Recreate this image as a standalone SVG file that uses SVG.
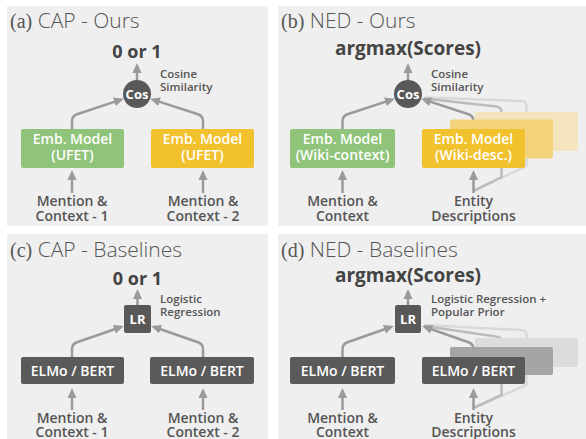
<svg xmlns="http://www.w3.org/2000/svg" width="586" height="439" viewBox="0 0 586 439">
<defs>
<style>
.panel{fill:#efefef}
.ttl{font-family:"Open Sans","Liberation Sans",sans-serif;font-weight:300;font-size:21px;fill:#555}
.ttl .lt{font-family:"Liberation Serif",serif;font-weight:400;font-size:20px}
.out{font-family:"Open Sans","Liberation Sans",sans-serif;font-weight:700;fill:#444;text-anchor:middle}
.note{font-family:"Open Sans","Liberation Sans",sans-serif;font-weight:600;font-size:11.5px;fill:#555}
.inp{font-family:"Open Sans","Liberation Sans",sans-serif;font-weight:600;font-size:14px;fill:#555;text-anchor:middle}
.bt{font-family:"Open Sans","Liberation Sans",sans-serif;font-weight:600;font-size:14px;fill:#fff;text-anchor:middle}
.op{font-family:"Open Sans","Liberation Sans",sans-serif;font-weight:700;font-size:13px;fill:#fff;text-anchor:middle}
.ar{fill:none;stroke:#9a9a9a;stroke-width:2.5;marker-end:url(#ah)}
.l2{fill:none;stroke:#bcbcbc;stroke-width:2.5}
.l3{fill:none;stroke:#d9d9d9;stroke-width:2.5}
.green{fill:#8fc47a}
.yel{fill:#f2c12e}
.yel2{fill:#f2d37c}
.yel3{fill:#f4e5bf}
.dk{fill:#5a5a5a}
.gr2{fill:#a5a5a5}
.gr3{fill:#dcdcdc}
</style>
<marker id="ah" viewBox="0 0 10 10" refX="7" refY="5" markerWidth="10" markerHeight="10" markerUnits="userSpaceOnUse" orient="auto">
<path d="M0,0.5 L10,5 L0,9.5 z" fill="#9a9a9a"/>
</marker>
</defs>

<rect class="panel" x="7" y="6" width="261" height="220"/>
<rect class="panel" x="278" y="6" width="308" height="220"/>
<rect class="panel" x="7" y="234" width="261" height="205"/>
<rect class="panel" x="278" y="234" width="308" height="205"/>

<g id="titles">
<text class="ttl" x="10" y="28"><tspan class="lt">(a)</tspan> CAP - Ours</text>
<text class="ttl" x="281" y="28"><tspan class="lt">(b)</tspan> NED - Ours</text>
<text class="ttl" x="10" y="257"><tspan class="lt">(c)</tspan> CAP - Baselines</text>
<text class="ttl" x="281" y="257"><tspan class="lt">(d)</tspan> NED - Baselines</text>
</g>

<g id="connectors">
<!-- a -->
<path class="ar" d="M137,80 V66"/>
<path class="ar" d="M72,129 V121 Q72,116 77,114.2 L121,99.6"/>
<path class="ar" d="M203,129 V121 Q203,116 198,114.2 L153,99.6"/>
<path class="ar" d="M72,193 V173"/>
<path class="ar" d="M203,193 V173"/>
<!-- b -->
<path class="ar" d="M408,80 V66"/>
<path class="l3" d="M526.5,112 V106 Q526.5,101 521,101 L424,97.5"/>
<path class="l2" d="M501.5,119 V112 Q501.5,107 496,106.5 L424,98.5"/>
<path class="l3" d="M473.5,191 L526.5,166 V151"/>
<path class="l2" d="M473.5,191 L501.5,177 V159"/>
<path class="ar" d="M342.5,129 V121 Q342.5,116 347.5,114.2 L392,99.6"/>
<path class="ar" d="M473.5,129 V121 Q473.5,116 468.5,114.2 L424,99.6"/>
<path class="ar" d="M342.5,193 V173"/>
<path class="ar" d="M473.5,193 V173"/>
<!-- c -->
<path class="ar" d="M137.5,305 V292"/>
<path class="ar" d="M72,357 V349 Q72,344 77,342.2 L121,327"/>
<path class="ar" d="M203,357 V349 Q203,344 198,342.2 L154,327"/>
<path class="ar" d="M72,410 V391"/>
<path class="ar" d="M203,410 V391"/>
<!-- d -->
<path class="ar" d="M408,305 V292"/>
<path class="l3" d="M526.5,338 V335 Q526.5,330 521,330 L424,325"/>
<path class="l2" d="M501.5,347 V342 Q501.5,337 496,336.5 L424,326"/>
<path class="l3" d="M473.5,408 L526.5,385 V367"/>
<path class="l2" d="M473.5,408 L501.5,395 V375"/>
<path class="ar" d="M342.5,357 V349 Q342.5,344 347.5,342.2 L391,327"/>
<path class="ar" d="M473.5,357 V349 Q473.5,344 468.5,342.2 L425,327"/>
<path class="ar" d="M342.5,410 V391"/>
<path class="ar" d="M473.5,410 V391"/>
</g>

<!-- panel a nodes -->
<g id="a-out"><text class="out" x="137" y="58" font-size="18">0 or 1</text></g>
<g id="a-cos">
<circle cx="137" cy="94" r="14" fill="#595959"/>
<text class="op" x="137" y="98.5">Cos</text>
<text class="note" x="160" y="78">Cosine</text>
<text class="note" x="160" y="91">Similarity</text>
</g>
<g id="a-emb1">
<rect class="green" x="21" y="129" width="103" height="39" rx="2"/>
<text class="bt" x="72.5" y="144">Emb. Model</text>
<text class="bt" x="72.5" y="160">(UFET)</text>
</g>
<g id="a-emb2">
<rect class="yel" x="151" y="129" width="103" height="39" rx="2"/>
<text class="bt" x="202.5" y="144">Emb. Model</text>
<text class="bt" x="202.5" y="160">(UFET)</text>
</g>
<g id="a-in1"><text class="inp" x="72" y="206">Mention &amp;</text><text class="inp" x="72" y="221">Context - 1</text></g>
<g id="a-in2"><text class="inp" x="203" y="206">Mention &amp;</text><text class="inp" x="203" y="221">Context - 2</text></g>

<!-- panel b nodes -->
<g id="b-out"><text class="out" x="408" y="55" font-size="19">argmax(Scores)</text></g>
<g id="b-cos">
<circle cx="408" cy="94" r="14" fill="#595959"/>
<text class="op" x="408" y="98.5">Cos</text>
<text class="note" x="431" y="78">Cosine</text>
<text class="note" x="431" y="91">Similarity</text>
</g>
<g id="b-emb1">
<rect class="green" x="290" y="129" width="105" height="39" rx="2"/>
<text class="bt" x="342.5" y="144">Emb. Model</text>
<text class="bt" x="342.5" y="160">(Wiki-context)</text>
</g>
<g id="b-emb2">
<rect class="yel3" x="475" y="112" width="103" height="39" rx="2"/>
<rect class="yel2" x="450" y="119.5" width="103" height="39" rx="2"/>
<rect class="yel" x="422" y="129" width="103" height="39" rx="2"/>
<text class="bt" x="473.5" y="144">Emb. Model</text>
<text class="bt" x="473.5" y="160">(Wiki-desc.)</text>
</g>
<g id="b-in1"><text class="inp" x="342.5" y="206">Mention &amp;</text><text class="inp" x="342.5" y="221">Context</text></g>
<g id="b-in2"><text class="inp" x="473.5" y="206">Entity</text><text class="inp" x="473.5" y="221">Descriptions</text></g>

<!-- panel c nodes -->
<g id="c-out"><text class="out" x="137.5" y="285" font-size="18">0 or 1</text></g>
<g id="c-lr">
<rect x="124" y="305" width="27" height="28" rx="2" fill="#595959"/>
<text class="op" x="137.5" y="323.5">LR</text>
<text class="note" x="160" y="302.5">Logistic</text>
<text class="note" x="160" y="315.5">Regression</text>
</g>
<g id="c-elmo1">
<rect class="dk" x="21" y="357" width="103" height="27" rx="2"/>
<text class="bt" x="72.5" y="375.5">ELMo / BERT</text>
</g>
<g id="c-elmo2">
<rect class="dk" x="150" y="357" width="104" height="27" rx="2"/>
<text class="bt" x="202" y="375.5">ELMo / BERT</text>
</g>
<g id="c-in1"><text class="inp" x="72" y="423">Mention &amp;</text><text class="inp" x="72" y="437">Context - 1</text></g>
<g id="c-in2"><text class="inp" x="203" y="423">Mention &amp;</text><text class="inp" x="203" y="437">Context - 2</text></g>

<!-- panel d nodes -->
<g id="d-out"><text class="out" x="408" y="282" font-size="19">argmax(Scores)</text></g>
<g id="d-lr">
<rect x="395" y="305" width="26" height="28" rx="2" fill="#595959"/>
<text class="op" x="408" y="323.5">LR</text>
<text class="note" x="431" y="302.5">Logistic Regression +</text>
<text class="note" x="431" y="315.5">Popular Prior</text>
</g>
<g id="d-elmo1">
<rect class="dk" x="290" y="357" width="105" height="27" rx="2"/>
<text class="bt" x="342.5" y="375.5">ELMo / BERT</text>
</g>
<g id="d-elmo2">
<rect class="gr3" x="475" y="338" width="103" height="29" rx="2"/>
<rect class="gr2" x="450" y="347" width="103" height="28" rx="2"/>
<rect class="dk" x="422" y="357" width="103" height="27" rx="2"/>
<text class="bt" x="473.5" y="375.5">ELMo / BERT</text>
</g>
<g id="d-in1"><text class="inp" x="342.5" y="423">Mention &amp;</text><text class="inp" x="342.5" y="437">Context</text></g>
<g id="d-in2"><text class="inp" x="473.5" y="423">Entity</text><text class="inp" x="473.5" y="437">Descriptions</text></g>
</svg>
